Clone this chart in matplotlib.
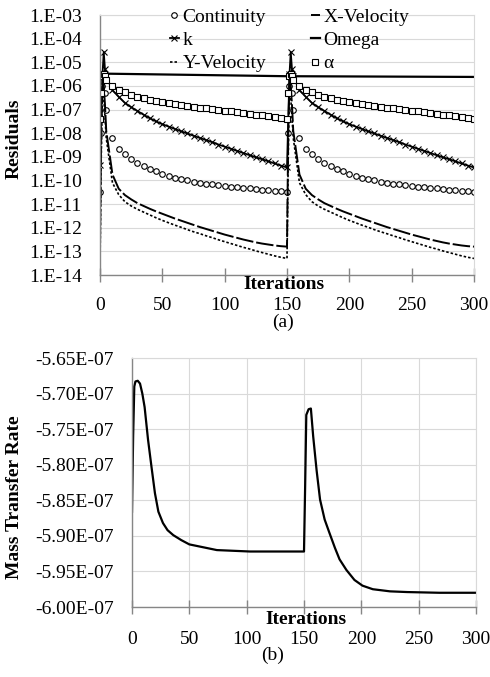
## residual history and mass transfer rate over two restarted runs

import numpy as np
import matplotlib
matplotlib.use("Agg")
import matplotlib.pyplot as plt
from matplotlib.ticker import FixedLocator, FuncFormatter, NullLocator

plt.rcParams["font.family"] = ["Liberation Serif", "DejaVu Serif"]
plt.rcParams["font.size"] = 14

# residuals as log10 values, one run of 150 iterations;
# the restart at iteration 150 repeats the same history
cycle_iter = [0, 1, 2, 3, 4, 5] + list(range(10, 151, 5))
continuity_log = [-10.5, -8.0, -6.0, -5.6, -6.3, -7.0,
                  -8.2, -8.65, -8.9, -9.1, -9.26, -9.39, -9.51, -9.62, -9.71, -9.80,
                  -9.88, -9.95, -10.0, -10.05, -10.09, -10.13, -10.17, -10.20, -10.23,
                  -10.26, -10.29, -10.31, -10.34, -10.37, -10.39, -10.41, -10.44, -10.46, -10.48]
k_log = [-9.35, -7.4, -5.5, -4.56, -5.3, -5.6,
         -6.18, -6.46, -6.72, -6.90, -7.06, -7.22, -7.37, -7.50, -7.62, -7.72,
         -7.82, -7.92, -8.01, -8.11, -8.20, -8.29, -8.38, -8.48, -8.57,
         -8.66, -8.75, -8.84, -8.93, -9.02, -9.10, -9.19, -9.28, -9.37, -9.45]
alpha_log = [-7.38, -6.3, -5.6, -5.5, -5.6, -5.75,
             -6.02, -6.17, -6.27, -6.37, -6.45, -6.52, -6.58, -6.64, -6.69, -6.73,
             -6.77, -6.81, -6.85, -6.88, -6.92, -6.95, -6.99, -7.02, -7.05,
             -7.08, -7.11, -7.14, -7.18, -7.21, -7.24, -7.27, -7.31, -7.34, -7.38]
xvel_log = [-12.8, -8.0, -5.7, -6.0, -6.8, -7.9,
            -9.75, -10.35, -10.62, -10.80, -10.96, -11.08, -11.20, -11.31, -11.41, -11.51,
            -11.61, -11.70, -11.79, -11.88, -11.97, -12.05, -12.13, -12.21, -12.29,
            -12.36, -12.43, -12.50, -12.56, -12.62, -12.67, -12.71, -12.75, -12.78, -12.80]
yvel_log = [-13.6, -9.0, -6.0, -6.5, -7.3, -8.2,
            -10.1, -10.6, -10.9, -11.08, -11.22, -11.34, -11.46, -11.58, -11.69, -11.79,
            -11.89, -11.98, -12.08, -12.17, -12.25, -12.34, -12.42, -12.51, -12.59,
            -12.67, -12.75, -12.83, -12.90, -12.98, -13.05, -13.12, -13.19, -13.25, -13.30]
omega_iter = [0, 2, 150, 152, 300]
omega_log = [-5.55, -5.48, -5.59, -5.59, -5.62]

# mass transfer rate (x 1e-7)
mass_iter = [0, 1, 2, 3, 5, 7, 9, 11, 14, 17, 20, 23, 27, 31, 36, 43, 50, 62, 74, 103,
             130, 150, 151, 152, 154, 156, 158, 161, 164, 168, 172, 177, 181, 187, 194,
             201, 210, 225, 240, 268, 300]
mass_rate = [-5.866, -5.76, -5.69, -5.683, -5.682, -5.686, -5.70, -5.719, -5.765, -5.803,
             -5.840, -5.866, -5.882, -5.892, -5.899, -5.906, -5.912, -5.916, -5.920, -5.922,
             -5.922, -5.922, -5.83, -5.73, -5.722, -5.721, -5.76, -5.808, -5.849, -5.877,
             -5.895, -5.917, -5.933, -5.948, -5.962, -5.970, -5.975, -5.978, -5.979, -5.980,
             -5.980]

x_ticks = [0, 50, 100, 150, 200, 250, 300]
res_decades = list(range(-14, -2))
mass_ticks = [-6.00, -5.95, -5.90, -5.85, -5.80, -5.75, -5.70, -5.65]

GRID = "#d9d9d9"
AXIS = "#868686"

it = np.array(cycle_iter)
full_iter = np.concatenate([it, it[1:] + 150])


def two_runs(vals):
    v = np.array(vals)
    return 10.0 ** np.concatenate([v, v[1:]])


def style_x(ax, pad):
    ax.set_xlim(0, 300)
    ax.xaxis.set_major_locator(FixedLocator(x_ticks))
    ax.tick_params(axis="x", direction="inout", length=10, width=1, color=AXIS, pad=pad)
    ax.tick_params(axis="y", length=0, pad=13)
    for s in ["left", "bottom"]:
        ax.spines[s].set_color(AXIS)
        ax.spines[s].set_linewidth(1)
    for s in ["top", "right"]:
        ax.spines[s].set_color(GRID)
        ax.spines[s].set_linewidth(0.8)


fig = plt.figure(figsize=(4.9, 6.77), dpi=100)

# (a) residuals
ax1 = fig.add_axes([100 / 490, 1 - 275 / 677, 374 / 490, 260 / 677])
ax1.set_yscale("log")
ax1.set_ylim(1e-14, 1e-3)
ax1.yaxis.set_major_locator(FixedLocator([10.0 ** d for d in res_decades]))
ax1.yaxis.set_minor_locator(NullLocator())
ax1.yaxis.set_major_formatter(FuncFormatter(lambda v, p: "1.E-%02d" % round(-np.log10(v))))
ax1.grid(axis="y", color=GRID, lw=0.8, zorder=0)
ax1.set_axisbelow(True)
style_x(ax1, 11)

ax1.plot(full_iter, two_runs(continuity_log), ls="none", marker="o", ms=4, mfc="white",
         mec="black", mew=0.8, label="Continuity")
ax1.plot(full_iter, two_runs(k_log), color="black", lw=1.3, marker="x", ms=4, mew=0.8,
         label="k")
ax1.plot(full_iter, two_runs(yvel_log), color="black", lw=1.2, ls=(0, (1.5, 1.2)),
         label="Y-Velocity")
ax1.plot(full_iter, two_runs(xvel_log), color="black", lw=1.4, ls=(0, (9, 1.5)),
         label="X-Velocity")
ax1.plot(omega_iter, 10.0 ** np.array(omega_log), color="black", lw=1.6, label="Omega")
ax1.plot(full_iter, two_runs(alpha_log), ls="none", marker="s", ms=4, mfc="white",
         mec="black", mew=0.8, label="α")

ax1.legend(loc="upper left", bbox_to_anchor=(170 / 490, 1 - 8 / 677),
           bbox_transform=fig.transFigure, ncol=2, frameon=False, borderpad=0,
           handlelength=0.45, handletextpad=0.2, columnspacing=2.3, labelspacing=0.3,
           borderaxespad=0)
ax1.text(0.492, -0.038, "Iterations", transform=ax1.transAxes, ha="center", va="center",
         fontweight="bold")
ax1.set_ylabel("Residuals", fontweight="bold")
ax1.yaxis.set_label_coords(-0.206, 0.523)
fig.text(283 / 490, 1 - 322 / 677, "(a)", ha="center", va="center")

# (b) mass transfer rate
ax2 = fig.add_axes([132 / 490, 1 - 607 / 677, 344 / 490, 249 / 677])
ax2.plot(mass_iter, np.array(mass_rate) * 1e-7, color="black", lw=1.6)
ax2.set_ylim(-6.00e-7, -5.65e-7)
ax2.yaxis.set_major_locator(FixedLocator([t * 1e-7 for t in mass_ticks]))
ax2.yaxis.set_major_formatter(FuncFormatter(lambda v, p: "%.2fE-07" % (v * 1e7)))
ax2.grid(color=GRID, lw=0.8, zorder=0)
ax2.set_axisbelow(True)
style_x(ax2, 12.5)
ax2.text(0.506, -0.052, "Iterations", transform=ax2.transAxes, ha="center", va="center",
         fontweight="bold")
ax2.set_ylabel("Mass Transfer Rate", fontweight="bold")
ax2.yaxis.set_label_coords(-0.317, 0.44)
fig.text(273 / 490, 1 - 655 / 677, "(b)", ha="center", va="center")

fig.savefig("out.png", dpi=100)
